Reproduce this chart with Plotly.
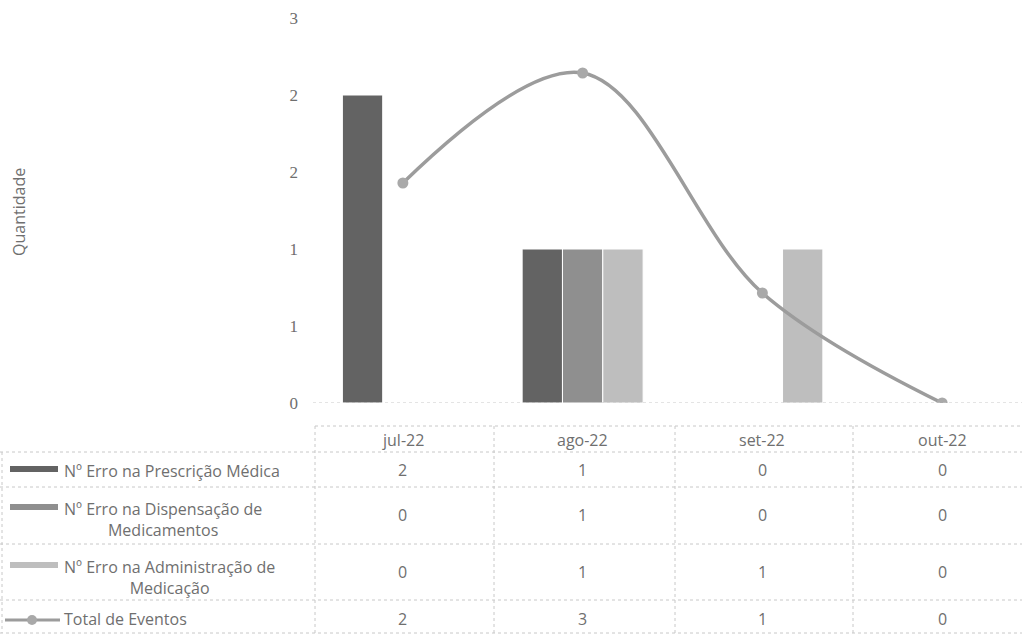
import plotly.graph_objects as go

# ---------------- data ----------------
categories = ["jul-22", "ago-22", "set-22", "out-22"]
series_names = [
    "Nº Erro na Prescrição Médica",
    "Nº Erro na Dispensação de<br>Medicamentos",
    "Nº Erro na Administração de<br>Medicação",
]
prescricao = [2, 1, 0, 0]
dispensacao = [0, 1, 0, 0]
administracao = [0, 1, 1, 0]
total_name = "Total de Eventos"
total_eventos = [2, 3, 1, 0]
y_tickvals = [0, 0.5, 1, 1.5, 2, 2.5]
y_ticktext = ["0", "1", "1", "2", "2", "3"]

# ---------------- style ----------------
bar_colors = ["#636363", "#8f8f8f", "#bebebe"]
line_color = "#9c9c9c"
marker_color = "#a9a9a9"
text_color = "#6f6f6f"
grid_color = "#c8c8c8"
FONT = "Open Sans"
FS = 16

W, H = 1022, 635
X0, X1 = 313, 1022   # plot area in px
Y0, Y1 = 18, 403


def px(xp):
    return (xp - X0) / (X1 - X0)


def py(yp):
    return (Y1 - yp) / (Y1 - Y0)


fig = go.Figure()
series_vals = [prescricao, dispensacao, administracao]
for name, vals, col in zip(series_names, series_vals, bar_colors):
    fig.add_trace(go.Bar(
        x=categories, y=vals, name=name.replace("<br>", " "),
        marker=dict(color=col, line=dict(color="white", width=1)),
        yaxis="y",
    ))

fig.add_trace(go.Scatter(
    x=categories, y=total_eventos, name=total_name, yaxis="y2",
    mode="lines+markers",
    line=dict(shape="spline", smoothing=1.0, color=line_color, width=3.5),
    marker=dict(size=11, color=marker_color),
))

shapes = []
annotations = []

# baseline (dotted)
shapes.append(dict(type="line", xref="paper", yref="y", x0=0, x1=1, y0=0, y1=0,
                   line=dict(color=grid_color, width=1, dash="dot"), layer="above"))

# ---------------- data table ----------------
col_edges_px = [315, 494, 675, 853, 1032]
row_lines_px = [452, 487, 544, 600, 633]
header_top = 426
shapes.append(dict(type="line", xref="paper", yref="paper", x0=px(315), x1=px(1032),
                   y0=py(header_top), y1=py(header_top),
                   line=dict(color=grid_color, width=1, dash="dot")))
for yl in row_lines_px:
    shapes.append(dict(type="line", xref="paper", yref="paper", x0=px(0), x1=px(1032),
                       y0=py(yl), y1=py(yl),
                       line=dict(color=grid_color, width=1, dash="dot")))
for xl in col_edges_px:
    shapes.append(dict(type="line", xref="paper", yref="paper", x0=px(xl), x1=px(xl),
                       y0=py(header_top), y1=py(row_lines_px[-1]),
                       line=dict(color=grid_color, width=1, dash="dot")))
shapes.append(dict(type="line", xref="paper", yref="paper", x0=px(2), x1=px(2),
                   y0=py(row_lines_px[0]), y1=py(row_lines_px[-1]),
                   line=dict(color=grid_color, width=1, dash="dot")))

tfont = dict(family=FONT, size=FS, color=text_color)

# header
for i, c in enumerate(categories):
    annotations.append(dict(x=i, xref="x", xanchor="center", y=py(440), yref="paper",
                            yanchor="middle", text=c, showarrow=False, font=tfont))

row_text_y = [470, 515, 572, 619]
row_first_line_y = [469, 507, 565, 619]
all_rows = series_vals + [total_eventos]
for r, vals in enumerate(all_rows):
    for i, v in enumerate(vals):
        annotations.append(dict(x=i, xref="x", xanchor="center", y=py(row_text_y[r]),
                                yref="paper", yanchor="middle", text=str(v),
                                showarrow=False, font=tfont))

# row labels and legend keys
for r, (name, col) in enumerate(zip(series_names, bar_colors)):
    annotations.append(dict(x=px(62), xref="paper", xanchor="left", align="center",
                            y=py(row_first_line_y[r] - 11), yref="paper", yanchor="top",
                            text=name, showarrow=False, font=tfont))
    shapes.append(dict(type="rect", xref="paper", yref="paper",
                       x0=px(10), x1=px(58), y0=py(row_first_line_y[r] - 3),
                       y1=py(row_first_line_y[r] + 3),
                       fillcolor=col, line=dict(width=0)))

annotations.append(dict(x=px(62), xref="paper", xanchor="left",
                        y=py(row_first_line_y[3]), yref="paper", yanchor="middle",
                        text=total_name, showarrow=False, font=tfont))
shapes.append(dict(type="line", xref="paper", yref="paper", x0=px(5), x1=px(60),
                   y0=py(620), y1=py(620), line=dict(color=line_color, width=3)))
shapes.append(dict(type="circle", xref="paper", yref="paper", x0=px(27), x1=px(37),
                   y0=py(625), y1=py(615), fillcolor=marker_color, line=dict(width=0)))

# axis title
annotations.append(dict(x=px(19), xref="paper", xanchor="center", y=py(212), yref="paper",
                        yanchor="middle", text="Quantidade", textangle=-90,
                        showarrow=False, font=tfont))

n = len(categories)
fig.update_layout(
    width=W, height=H,
    margin=dict(l=X0, r=W - X1, t=Y0, b=H - Y1, pad=0),
    paper_bgcolor="white", plot_bgcolor="white",
    showlegend=False,
    barmode="group", bargap=0.327, bargroupgap=0,
    xaxis=dict(type="category", range=[-0.5, n - 0.5 - (1032 - X1) / 179.8],
               showticklabels=False, showgrid=False, zeroline=False, showline=False, ticks=""),
    yaxis=dict(range=[0, 2.5], tickvals=y_tickvals, ticktext=y_ticktext,
               showgrid=False, zeroline=False, showline=False, ticks="",
               ticklabelstandoff=14,
               tickfont=dict(family="Liberation Serif", size=17, color=text_color)),
    yaxis2=dict(range=[0, 3.5], overlaying="y", side="right", visible=False),
    shapes=shapes, annotations=annotations,
)

fig.write_html("out.html", config={"displayModeBar": False},
               post_script="document.body.style.margin='0px';document.body.style.overflow='hidden';")
